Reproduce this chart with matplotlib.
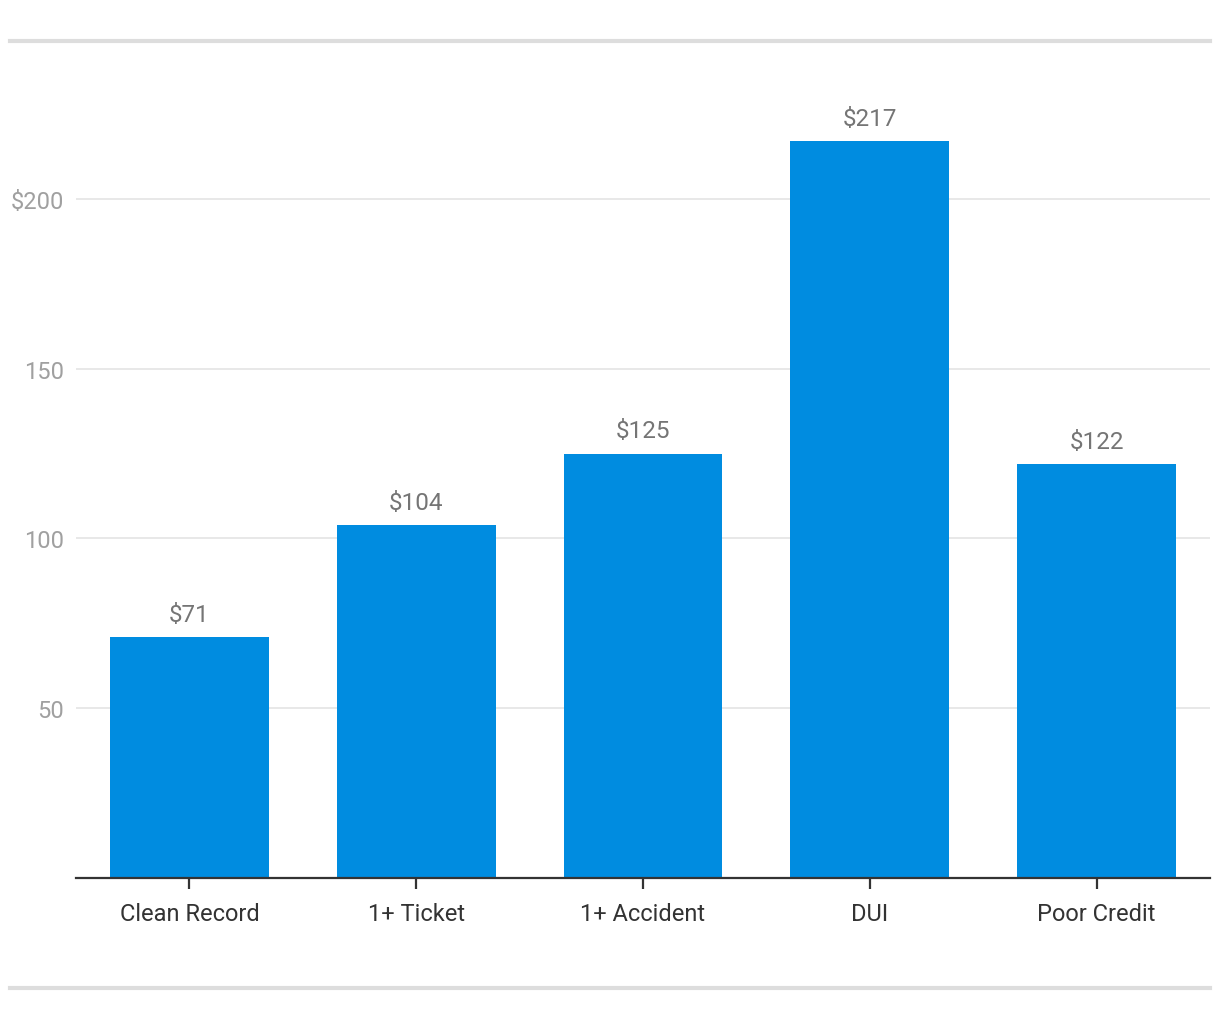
import matplotlib.pyplot as plt
from matplotlib.lines import Line2D

plt.rcParams['font.family'] = ['Roboto', 'DejaVu Sans']

# data
categories = ['Clean Record', '1+ Ticket', '1+ Accident', 'DUI', 'Poor Credit']
values = [71, 104, 125, 217, 122]
yticks = [50, 100, 150, 200]
ytick_labels = ['50', '100', '150', '$200']

fig = plt.figure(figsize=(12.2, 10.2), dpi=100)
ax = fig.add_axes([76 / 1220, 1 - 879 / 1020, (1210 - 76) / 1220, (879 - 64) / 1020])

x = range(len(categories))
bars = ax.bar(x, values, width=0.70, color='#008ce0', zorder=2)

for xi, v in zip(x, values):
    ax.annotate('$%d' % v, (xi, v), xytext=(0, 8), textcoords='offset points',
                ha='center', va='bottom', fontsize=17.5, color='#757575')

ax.set_xlim(-0.5, len(categories) - 0.5)
ax.set_ylim(0, 240)
ax.set_xticks(list(x))
ax.set_xticklabels(categories, fontsize=17, color='#333333')
ax.set_yticks(yticks)
ax.set_yticklabels(ytick_labels, fontsize=17, color='#a0a0a0')

ax.grid(axis='y', color='#e4e4e4', linewidth=1.2, zorder=0)
for s in ['top', 'right', 'left']:
    ax.spines[s].set_visible(False)
ax.spines['bottom'].set_color('#333333')
ax.spines['bottom'].set_linewidth(1.6)
ax.tick_params(axis='x', length=8, width=1.6, color='#333333', pad=9)
ax.tick_params(axis='y', length=0, pad=8.5)
ax.set_axisbelow(True)

# top and bottom separator rules
for yy in [41.5, 988.5]:
    fig.add_artist(Line2D([10 / 1220, 1210 / 1220], [1 - yy / 1020, 1 - yy / 1020],
                          color='#dddddd', linewidth=3, transform=fig.transFigure))

fig.savefig('out.png', dpi=100)
